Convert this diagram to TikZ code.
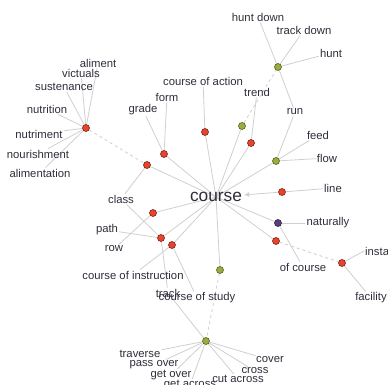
\documentclass[tikz,border=0pt]{standalone}
\usepackage{fontspec}
\setmainfont{Liberation Sans}
\usetikzlibrary{arrows.meta,backgrounds}
\definecolor{edgegray}{HTML}{CFCFCF}
\definecolor{labelcol}{HTML}{2E2E3A}
\definecolor{redfill}{HTML}{E8432D}
\definecolor{reddark}{HTML}{7A2418}
\definecolor{olivefill}{HTML}{9BAD3C}
\definecolor{olivedark}{HTML}{55621F}
\definecolor{purplefill}{HTML}{5B3F7D}
\definecolor{purpledark}{HTML}{2E1F42}
\begin{document}
\begin{tikzpicture}[x=1pt,y=-1pt,
  lbl/.style={font=\fontsize{11.3}{13}\selectfont, text=labelcol, inner sep=1pt},
  dot/.style={circle, line width=0.6pt, minimum size=7pt, inner sep=0pt},
  rdot/.style={dot, draw=reddark, fill=redfill},
  gdot/.style={dot, draw=olivedark, fill=olivefill},
  pdot/.style={dot, draw=purpledark, fill=purplefill},
  link/.style={draw=edgegray, line width=0.8pt},
  hyper/.style={link, dashed}]
  \clip (0,0) rectangle (388,385);
  % Centre
  \node[font=\fontsize{17.3}{20}\selectfont, text=labelcol, inner sep=2pt] (crs) at (216,197) {course};
  % Synsets
  \node[rdot] (nFood) at (86,128) {};
  \node[rdot] (nA) at (164,154) {};
  \node[rdot] (nB) at (147,165) {};
  \node[rdot] (nAct) at (205,132) {};
  \node[gdot] (gTrend) at (242,126) {};
  \node[rdot] (nTrend) at (251,143) {};
  \node[gdot] (gHunt) at (278,67) {};
  \node[gdot] (gFlow) at (276,161) {};
  \node[rdot] (nLine) at (282,192) {};
  \node[pdot] (pNat) at (278,223) {};
  \node[rdot] (nRace) at (276,241) {};
  \node[rdot] (nInst) at (342,263) {};
  \node[rdot] (nRow) at (153,213) {};
  \node[rdot] (nPath) at (161,238) {};
  \node[rdot] (nInstr) at (172,245) {};
  \node[gdot] (gStudy) at (220,270) {};
  \node[gdot] (gTrav) at (206,341) {};
  % Words
  \node[lbl] (wAliment) at (98,63) {aliment};
  \node[lbl] (wVictuals) at (81,73) {victuals};
  \node[lbl] (wSust) at (64,87) {sustenance};
  \node[lbl] (wNutrition) at (47,109) {nutrition};
  \node[lbl] (wNutriment) at (39,134) {nutriment};
  \node[lbl] (wNourish) at (38,154) {nourishment};
  \node[lbl] (wAlim) at (40,173) {alimentation};
  \node[lbl] (wGrade) at (143,110) {grade};
  \node[lbl] (wForm) at (167,97) {form};
  \node[lbl] (wAction) at (203,81) {course of action};
  \node[lbl] (wTrend) at (257,92) {trend};
  \node[lbl] (wHuntDown) at (258,17) {hunt down};
  \node[lbl] (wTrackDown) at (304,30) {track down};
  \node[lbl] (wHunt) at (331,53) {hunt};
  \node[lbl] (wRun) at (295,112) {run};
  \node[lbl] (wFeed) at (318,135) {feed};
  \node[lbl] (wFlow) at (327,158) {flow};
  \node[lbl] (wLine) at (333,188) {line};
  \node[lbl] (wNat) at (328,223) {naturally};
  \node[lbl] (wOfCourse) at (303,267) {of course};
  \node[lbl, anchor=west] (wInst) at (364,251) {installation};
  \node[lbl] (wFacility) at (371,298) {facility};
  \node[lbl] (wClass) at (121,199) {class};
  \node[lbl] (wPath) at (107,230) {path};
  \node[lbl] (wRow) at (114,249) {row};
  \node[lbl] (wInstr) at (133,275) {course of instruction};
  \node[lbl] (wTrack) at (168,293) {track};
  \node[lbl] (wStudy) at (197,298) {course of study};
  \node[lbl] (wTraverse) at (140,354) {traverse};
  \node[lbl] (wPassOver) at (154,365) {pass over};
  \node[lbl] (wGetOver) at (171,375) {get over};
  \node[lbl] (wGetAcross) at (190,385) {get across};
  \node[lbl] (wCutAcross) at (238,379) {cut across};
  \node[lbl] (wCross) at (255,371) {cross};
  \node[lbl] (wCover) at (270,360) {cover};
  % Links
  \begin{scope}[on background layer]
    \foreach \w in {wAliment,wVictuals,wSust,wNutrition,wNutriment,wNourish,wAlim}
      \draw[link] (nFood) -- (\w);
    \draw[hyper] (nFood) -- (nB);
    \draw[link] (nA) -- (wGrade);
    \draw[link] (nA) -- (wForm);
    \draw[link] (nB) -- (wClass);
    \draw[link] (nAct) -- (wAction);
    \draw[link] (nTrend) -- (wTrend);
    \draw[hyper] (gTrend) -- (gHunt);
    \foreach \w in {wHuntDown,wTrackDown,wHunt,wRun}
      \draw[link] (gHunt) -- (\w);
    \foreach \w in {wRun,wFeed,wFlow}
      \draw[link] (gFlow) -- (\w);
    \draw[link] (nLine) -- (wLine);
    \draw[link] (pNat) -- (wNat);
    \draw[link] (pNat) -- (wOfCourse);
    \draw[hyper] (nRace) -- (nInst);
    \draw[link] (nInst) -- (wInst.west);
    \draw[link] (nInst) -- (wFacility);
    \draw[link] (nRow) -- (wRow);
    \foreach \w in {wPath,wClass,wTrack}
      \draw[link] (nPath) -- (\w);
    \draw[link] (nInstr) -- (wInstr);
    \draw[link] (nInstr) -- (wStudy);
    \draw[hyper] (gStudy) -- (gTrav);
    \foreach \w in {wTrack,wTraverse,wPassOver,wGetOver,wGetAcross,wCutAcross,wCross,wCover}
      \draw[link] (gTrav) -- (\w);
    % to the centre
    \foreach \s in {nA,nB,nAct,gTrend,nTrend,gFlow,pNat,nRace,nRow,nPath,nInstr,gStudy}
      \draw[link] (\s) -- (crs.center);
  \end{scope}
  \draw[link, -{Latex[length=5pt,width=5pt]}] (nLine) -- (crs);
\end{tikzpicture}
\end{document}
